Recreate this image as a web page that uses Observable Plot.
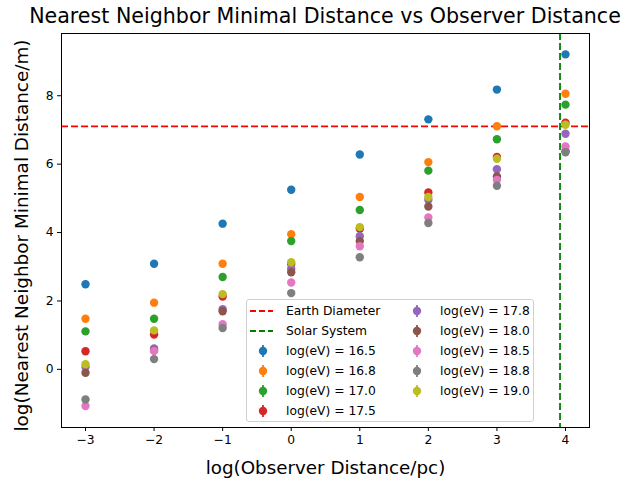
<!DOCTYPE html>
<html><head><meta charset="utf-8">
<script src="https://cdn.jsdelivr.net/npm/d3@7"></script>
<script src="https://cdn.jsdelivr.net/npm/@observablehq/plot@0.6"></script>
<style>
body{margin:0;background:#fff;font-family:"DejaVu Sans",sans-serif;}
#wrap{position:relative;width:623px;height:480px;overflow:hidden;}
#title{height:30px;line-height:32px;font-size:20.6px;text-align:center;padding-left:27px;width:596px;white-space:nowrap;color:#000;}
#legend{position:absolute;left:246px;top:299px;width:288px;height:123px;box-sizing:border-box;border:1px solid #d0d0d0;border-radius:3px;background:rgba(255,255,255,0.8);font-size:12.3px;color:#000;}
.item{position:absolute;height:20px;display:flex;align-items:center;white-space:nowrap;}
.item svg{width:36px;height:20px;flex:none;margin-right:3px;}
</style></head>
<body><div id="wrap"><div id="title">Nearest Neighbor Minimal Distance vs Observer Distance</div><div id="chart"></div><div id="legend"></div></div>
<script>
const xs = [-3, -2, -1, 0, 1, 2, 3, 4];
const energyLabels = ["16.5", "16.8", "17.0", "17.5", "17.8", "18.0", "18.5", "18.8", "19.0"];
const e165 = [2.49, 3.09, 4.26, 5.25, 6.28, 7.31, 8.18, 9.21];
const e168 = [1.48, 1.95, 3.09, 3.95, 5.04, 6.06, 7.11, 8.06];
const e170 = [1.11, 1.48, 2.70, 3.75, 4.66, 5.81, 6.73, 7.74];
const e175 = [0.53, 1.02, 2.13, 3.08, 4.11, 5.17, 6.21, 7.21];
const e178 = [0.07, 0.61, 1.76, 2.94, 3.89, 4.96, 5.85, 6.89];
const e180 = [-0.10, 0.55, 1.70, 2.84, 3.75, 4.76, 5.64, 6.38];
const e185 = [-1.07, 0.54, 1.32, 2.54, 3.60, 4.44, 5.54, 6.52];
const e188 = [-0.88, 0.30, 1.21, 2.23, 3.28, 4.28, 5.37, 6.35];
const e190 = [0.15, 1.14, 2.20, 3.13, 4.16, 5.04, 6.16, 7.15];
const earthDiameter = 7.105;
const solarSystem = 3.92;
const xTicks = [-3, -2, -1, 0, 1, 2, 3, 4];
const yTicks = [0, 2, 4, 6, 8];
const colors = ["#1f77b4", "#ff7f0e", "#2ca02c", "#d62728", "#9467bd", "#8c564b", "#e377c2", "#7f7f7f", "#bcbd22"];

const seriesValues = [e165, e168, e170, e175, e178, e180, e185, e188, e190];
const data = [];
seriesValues.forEach((vals, i) => vals.forEach((v, j) => data.push({x: xs[j], y: v, s: energyLabels[i]})));

const minus = d => d < 0 ? "\u2212" + (-d) : String(d);
const font = "DejaVu Sans, sans-serif";

const chart = Plot.plot({
  width: 623, height: 450,
  marginLeft: 61, marginRight: 34, marginTop: 3, marginBottom: 53,
  style: {fontFamily: font, background: "white", color: "black"},
  x: {domain: [-3.35, 4.35]},
  y: {domain: [-1.70, 9.82]},
  color: {domain: energyLabels, range: colors},
  marks: [
    Plot.ruleY([earthDiameter], {stroke: "red", strokeWidth: 1.8, strokeDasharray: "7,3"}),
    Plot.ruleX([solarSystem], {stroke: "green", strokeWidth: 1.8, strokeDasharray: "7,3"}),
    Plot.dot(data, {x: "x", y: "y", fill: "s", r: 4.2}),
    Plot.frame({stroke: "black", strokeWidth: 1}),
    Plot.axisX({ticks: xTicks, tickFormat: minus, label: null, fontSize: 12.3, tickSize: 4, tickPadding: 4}),
    Plot.axisY({ticks: yTicks, tickFormat: minus, label: null, fontSize: 12.3, tickSize: 4, tickPadding: 4}),
    Plot.text(["log(Observer Distance/pc)"], {frameAnchor: "bottom", lineAnchor: "middle", textAnchor: "middle", dy: 41, fontSize: 18.3, fill: "black"}),
    Plot.text(["log(Nearest Neighbor Minimal Distance/m)"], {frameAnchor: "left", lineAnchor: "middle", textAnchor: "middle", rotate: -90, dx: -39, dy: 5, fontSize: 18.4, fill: "black"})
  ]
});
document.getElementById("chart").appendChild(chart);

// legend
const legend = document.getElementById("legend");
const entries = [
  {label: "Earth Diameter", kind: "line", color: "red", col: 0, row: 0},
  {label: "Solar System", kind: "line", color: "green", col: 0, row: 1}
];
energyLabels.forEach((e, i) => {
  const k = i + 2;
  entries.push({label: "log(eV) = " + e, kind: "err", color: colors[i], col: k < 6 ? 0 : 1, row: k < 6 ? k : k - 6});
});
entries.forEach(en => {
  const div = document.createElement("div");
  div.className = "item";
  div.style.left = (en.col ? 154 : 0) + "px";
  div.style.top = (1 + en.row * 20) + "px";
  const sw = en.kind === "line"
    ? `<svg viewBox="0 0 36 20"><line x1="3" x2="26" y1="10" y2="10" stroke="${en.color}" stroke-width="1.8" stroke-dasharray="6,3"/></svg>`
    : `<svg viewBox="0 0 36 20"><line x1="16" x2="16" y1="4" y2="16" stroke="${en.color}" stroke-width="1.8"/><circle cx="16" cy="10" r="4.2" fill="${en.color}"/></svg>`;
  div.innerHTML = sw + `<span>${en.label}</span>`;
  legend.appendChild(div);
});
</script></body></html>
